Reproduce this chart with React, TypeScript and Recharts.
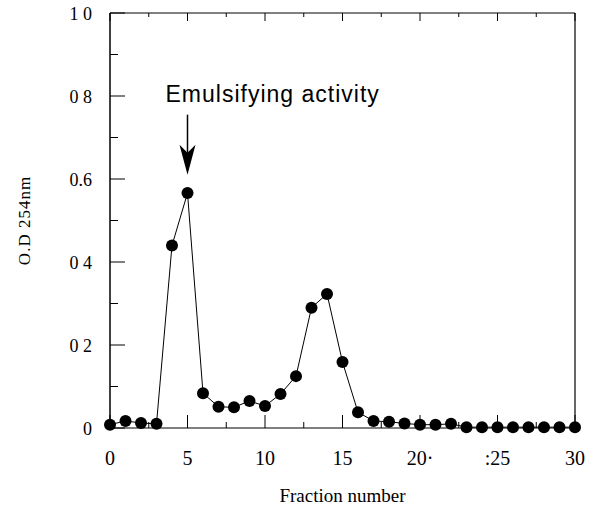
import { LineChart, Line, XAxis, YAxis, ReferenceLine } from 'recharts'

// fraction number vs O.D at 254 nm
const fractions = [0, 1, 2, 3, 4, 5, 6, 7, 8, 9, 10, 11, 12, 13, 14, 15, 16, 17, 18, 19, 20, 21, 22, 23, 24, 25, 26, 27, 28, 29, 30]
const od254 = [0.008, 0.017, 0.012, 0.01, 0.44, 0.566, 0.084, 0.051, 0.05, 0.065, 0.053, 0.082, 0.125, 0.29, 0.323, 0.159, 0.038, 0.017, 0.015, 0.011, 0.008, 0.008, 0.01, 0.002, 0.002, 0.002, 0.002, 0.002, 0.002, 0.002, 0.002]

const xTicks = [0, 2.5, 5, 7.5, 10, 12.5, 15, 17.5, 20, 22.5, 25, 27.5, 30]
const xTickLabels: Record<string, string> = { '0': '0', '5': '5', '10': '10', '15': '15', '20': '20·', '25': ':25', '30': '30' }
const yTicks = [0, 0.1, 0.2, 0.3, 0.4, 0.5, 0.6, 0.7, 0.8, 0.9, 1]
const yTickLabels: Record<string, string> = { '0': '0', '0.2': '0 2', '0.4': '0 4', '0.6': '0.6', '0.8': '0 8', '1': '1 0' }

const peakFraction = 5
const annotation = 'Emulsifying activity'

const data = fractions.map((f, i) => ({ fraction: f, od: od254[i] }))

const serif = '"Liberation Serif", "DejaVu Serif", serif'
const isMajorX = (v: number) => v % 5 === 0
const isMajorY = (v: number) => Math.round(v * 10) % 2 === 0

function BottomTick(props: any) {
  const { x, y, payload } = props
  const v = payload.value
  const major = isMajorX(v)
  return (
    <g>
      <line x1={x} y1={y} x2={x} y2={y - (major ? 13 : 6)} stroke="#000" strokeWidth={1} />
      {major && (
        <text x={x} y={y + 37} textAnchor="middle" fontFamily={serif} fontSize={20} fill="#000">
          {xTickLabels[String(v)]}
        </text>
      )}
    </g>
  )
}

function TopTick(props: any) {
  const { x, y, payload } = props
  const major = isMajorX(payload.value)
  return <line x1={x} y1={y} x2={x} y2={y + (major ? 8 : 4)} stroke="#000" strokeWidth={1} />
}

function LeftTick(props: any) {
  const { x, y, payload } = props
  const v = payload.value
  const major = isMajorY(v)
  const key = String(Math.round(v * 10) / 10)
  return (
    <g>
      <line x1={x} y1={y} x2={x + (major ? 15 : 8)} y2={y} stroke="#000" strokeWidth={1} />
      {major && (
        <text x={x - 18} y={y + 7} textAnchor="end" fontFamily={serif} fontSize={18} fill="#000">
          {yTickLabels[key]}
        </text>
      )}
    </g>
  )
}

function RightTick(props: any) {
  const { x, y, payload } = props
  const major = isMajorY(payload.value)
  return <line x1={x} y1={y} x2={x - (major ? 15 : 7)} y2={y} stroke="#000" strokeWidth={1} />
}

function ArrowShape(props: any) {
  const { x1, y1, x2, y2 } = props
  return (
    <g>
      <text x={x1 - 22} y={y1 - 13} fontFamily='"Liberation Sans", Arial, sans-serif' fontSize={23} letterSpacing={1} fill="#000">
        {annotation}
      </text>
      <line x1={x1} y1={y1} x2={x2} y2={y2 - 22} stroke="#000" strokeWidth={1.5} />
      <path d={`M${x2},${y2} L${x2 - 8},${y2 - 30} L${x2},${y2 - 22} L${x2 + 8},${y2 - 30} Z`} fill="#000" />
    </g>
  )
}

export default function App() {
  return (
    <div style={{ position: 'absolute', left: 0, top: 0, background: '#fff' }}>
      <LineChart width={590} height={510} data={data} margin={{ top: 12, right: 14, bottom: 2, left: 10 }}>
        <XAxis
          dataKey="fraction"
          type="number"
          domain={[0, 30]}
          ticks={xTicks}
          tick={BottomTick}
          tickSize={0}
          tickMargin={0}
          tickLine={false}
          axisLine={{ stroke: '#000', strokeWidth: 1.2 }}
          height={80}
          interval={0}
          label={{ value: 'Fraction number', position: 'insideBottom', offset: 6, style: { fontFamily: serif, fontSize: 19, fill: '#000' } }}
        />
        <XAxis
          xAxisId="top"
          orientation="top"
          type="number"
          domain={[0, 30]}
          ticks={xTicks}
          tick={TopTick}
          tickSize={0}
          tickMargin={0}
          tickLine={false}
          axisLine={{ stroke: '#000', strokeWidth: 1 }}
          height={1}
          interval={0}
        />
        <YAxis
          type="number"
          domain={[0, 1]}
          ticks={yTicks}
          tick={LeftTick}
          tickSize={0}
          tickMargin={0}
          tickLine={false}
          axisLine={{ stroke: '#000', strokeWidth: 1.5 }}
          width={100}
          interval={0}
          label={{ value: 'O.D 254nm', angle: -90, position: 'insideLeft', offset: 14, style: { fontFamily: serif, fontSize: 17, letterSpacing: 1, fill: '#000', textAnchor: 'middle' } }}
        />
        <YAxis
          yAxisId="right"
          orientation="right"
          type="number"
          domain={[0, 1]}
          ticks={yTicks}
          tick={RightTick}
          tickSize={0}
          tickMargin={0}
          tickLine={false}
          axisLine={{ stroke: '#000', strokeWidth: 1.2 }}
          width={1}
          interval={0}
        />
        <ReferenceLine
          segment={[{ x: peakFraction, y: 0.755 }, { x: peakFraction, y: 0.61 }]}
          shape={ArrowShape}
        />
        <Line
          dataKey="od"
          stroke="#000"
          strokeWidth={1}
          dot={{ r: 6, fill: '#000', stroke: '#000', strokeWidth: 0 }}
          isAnimationActive={false}
        />
      </LineChart>
    </div>
  )
}
